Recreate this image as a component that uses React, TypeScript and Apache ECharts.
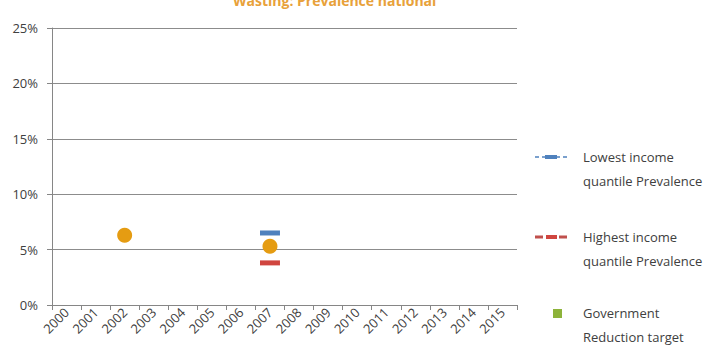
import React, { useEffect, useRef } from "react";
import * as echarts from "echarts";

const years = ["2000","2001","2002","2003","2004","2005","2006","2007","2008","2009","2010","2011","2012","2013","2014","2015"];
const lowestIncome: (number | null)[] = [null,null,null,null,null,null,null,6.5,null,null,null,null,null,null,null,null];
const highestIncome: (number | null)[] = [null,null,null,null,null,null,null,3.8,null,null,null,null,null,null,null,null];
const nationalPrevalence: (number | null)[] = [null,null,6.3,null,null,null,null,5.3,null,null,null,null,null,null,null,null];
const governmentTarget: (number | null)[] = [null,null,null,null,null,null,null,null,null,null,null,null,null,null,null,null];
const yTicks = [0, 5, 10, 15, 20, 25];

const FONT = "'Open Sans', 'Liberation Sans', sans-serif";
const TXT = "#404040";

export default function App() {
  const ref = useRef<HTMLDivElement>(null);
  useEffect(() => {
    if (!ref.current) return;
    const chart = echarts.init(ref.current, null, { renderer: "svg" });
    const legendText = (x: number, y: number, lines: string[]) =>
      lines.map((t, i) => ({
        type: "text",
        x,
        y: y + i * 24,
        style: { text: t, fill: TXT, font: `13px ${FONT}`, textVerticalAlign: "middle" },
      }));
    chart.setOption({
      animation: false,
      backgroundColor: "#ffffff",
      textStyle: { fontFamily: FONT },
      title: {
        text: "Wasting: Prevalence national",
        left: 228,
        top: -12,
        textStyle: { color: "#E8A13A", fontSize: 14, fontWeight: "bold", fontFamily: FONT },
      },
      grid: { left: 52, top: 28, width: 465, height: 277, containLabel: false },
      xAxis: {
        type: "category",
        data: years,
        boundaryGap: true,
        axisLine: { lineStyle: { color: "#868686", width: 1 } },
        axisTick: { show: true, length: 5, lineStyle: { color: "#868686" } },
        axisLabel: { rotate: 45, color: TXT, fontSize: 13, margin: 5, fontFamily: FONT, interval: 0 },
      },
      yAxis: {
        type: "value",
        min: yTicks[0],
        max: yTicks[yTicks.length - 1],
        interval: 5,
        axisLine: { show: true, lineStyle: { color: "#868686", width: 1 } },
        axisTick: { show: true, length: 5, lineStyle: { color: "#868686" } },
        axisLabel: { color: TXT, fontSize: 13, margin: 14, fontFamily: FONT, formatter: "{value}%" },
        splitLine: { show: true, lineStyle: { color: "#8c8c8c", width: 1 } },
      },
      series: [
        {
          name: "Lowest income quantile Prevalence",
          type: "line",
          data: lowestIncome,
          connectNulls: true,
          symbol: "rect",
          symbolSize: [20, 5],
          itemStyle: { color: "#4F81BD" },
          lineStyle: { color: "#4F81BD", type: "dashed", width: 1.5 },
        },
        {
          name: "Highest income quantile Prevalence",
          type: "line",
          data: highestIncome,
          connectNulls: true,
          symbol: "rect",
          symbolSize: [20, 5],
          itemStyle: { color: "#D0453F" },
          lineStyle: { color: "#C0504D", type: "dashed", width: 3 },
        },
        {
          name: "National Prevalence",
          type: "line",
          data: nationalPrevalence,
          lineStyle: { width: 0, opacity: 0 },
          symbol: "circle",
          symbolSize: 15,
          itemStyle: { color: "#E59C12" },
          z: 5,
        },
        {
          name: "Government Reduction target",
          type: "line",
          data: governmentTarget,
          symbol: "rect",
          symbolSize: 9,
          itemStyle: { color: "#8DB33A" },
        },
      ],
      graphic: [
        { type: "line", shape: { x1: 535, y1: 157, x2: 568, y2: 157 }, style: { stroke: "#4F81BD", lineWidth: 1.5, lineDash: [4, 3] } },
        { type: "rect", shape: { x: 545, y: 155, width: 12, height: 4 }, style: { fill: "#4F81BD" } },
        ...legendText(583, 157, ["Lowest income", "quantile Prevalence"]),
        { type: "line", shape: { x1: 535, y1: 237, x2: 568, y2: 237 }, style: { stroke: "#C0504D", lineWidth: 3, lineDash: [8, 4] } },
        { type: "rect", shape: { x: 546, y: 235, width: 11, height: 4 }, style: { fill: "#D0453F" } },
        ...legendText(583, 237, ["Highest income", "quantile Prevalence"]),
        { type: "rect", shape: { x: 553, y: 309, width: 9, height: 9 }, style: { fill: "#8DB33A" } },
        ...legendText(583, 313, ["Government", "Reduction target"]),
      ],
    });
    return () => chart.dispose();
  }, []);
  return <div ref={ref} style={{ width: 718, height: 347, position: "absolute", left: 0, top: 0 }} />;
}
